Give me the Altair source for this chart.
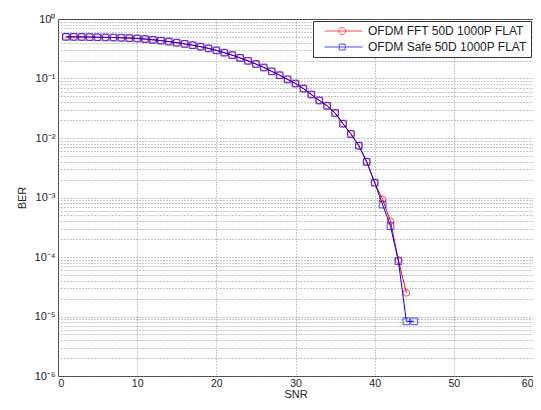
import altair as alt
import pandas as pd

# ---- data ----
snr_red = list(range(1, 45))
ber_red = [0.501, 0.500, 0.499, 0.497, 0.494, 0.491, 0.488, 0.483, 0.478, 0.470,
           0.460, 0.447, 0.433, 0.417, 0.400, 0.382, 0.363, 0.343, 0.321, 0.297,
           0.272, 0.247, 0.222, 0.198, 0.175, 0.153, 0.132, 0.1135, 0.0966, 0.0822,
           0.0676, 0.0537, 0.0427, 0.0347, 0.0263, 0.0174, 0.0117, 0.00741, 0.00398, 0.00178,
           9.3e-4, 3.98e-4, 8.9e-5, 2.5e-5]
snr_blue = list(range(1, 46))
ber_blue = [0.501, 0.500, 0.499, 0.497, 0.494, 0.491, 0.488, 0.483, 0.478, 0.470,
            0.460, 0.447, 0.433, 0.417, 0.400, 0.382, 0.363, 0.343, 0.321, 0.297,
            0.272, 0.247, 0.222, 0.198, 0.175, 0.153, 0.132, 0.1135, 0.0966, 0.0822,
            0.0676, 0.0537, 0.0427, 0.0347, 0.0263, 0.0174, 0.0117, 0.00741, 0.00398, 0.00178,
            7.6e-4, 3.3e-4, 8.5e-5, 8.3e-6, 8.3e-6]

series_names = ["OFDM FFT 50D 1000P FLAT", "OFDM Safe 50D 1000P FLAT"]
series_colors = ["#ff0000", "#0000ff"]
point_shapes = ["circle", "square"]
# legend glyphs: line segment with marker (unit = sqrt(size)/2 px)
legend_shapes = [
    "M0.5,0H13.2M7.57,0A1.17,1.17,0,1,1,5.23,0A1.17,1.17,0,1,1,7.57,0",
    "M0.5,0H13.2M5.4,-1H7.4V1H5.4Z",
]
x_ticks = [0, 10, 20, 30, 40, 50, 60]
y_exponents = [-6, -5, -4, -3, -2, -1]
y_grid = [k * 10.0 ** e for e in y_exponents for k in range(1, 10)] + [1.0]

df = pd.DataFrame({
    "snr": snr_red + snr_blue,
    "ber": ber_red + ber_blue,
    "series": [series_names[0]] * len(snr_red) + [series_names[1]] * len(snr_blue),
})

label_expr = (
    "abs(log(datum.value)/LN10 - round(log(datum.value)/LN10)) < 0.001 ? "
    "'10' + ['\u2070','\u207b\u00b9','\u207b\u00b2','\u207b\u00b3','\u207b\u2074','\u207b\u2075','\u207b\u2076']"
    "[abs(round(log(datum.value)/LN10))] : ''"
)

x_enc = alt.X(
    "snr:Q",
    scale=alt.Scale(domain=[0, 60], nice=False),
    axis=alt.Axis(values=x_ticks, title="SNR", grid=True, ticks=False, tickSize=0,
                  domain=False, labelPadding=2, labelFontSize=10.5, titlePadding=0, format="d"),
)
y_enc = alt.Y(
    "ber:Q",
    scale=alt.Scale(type="log", domain=[1e-6, 1], nice=False),
    axis=alt.Axis(values=y_grid, labelExpr=label_expr, title="BER", grid=True,
                  ticks=False, tickSize=0, domain=False, labelPadding=3, titlePadding=7,
                  labelOverlap=False),
)

base = alt.Chart(df)

lines = base.mark_line(strokeWidth=1, clip=True).encode(
    x=x_enc, y=y_enc,
    color=alt.Color("series:N", scale=alt.Scale(domain=series_names, range=series_colors), legend=None),
)
points = base.mark_point(filled=False, strokeWidth=1, size=45, clip=True).encode(
    x=x_enc, y=y_enc,
    color=alt.Color("series:N", scale=alt.Scale(domain=series_names, range=series_colors), legend=None),
    shape=alt.Shape("series:N", scale=alt.Scale(domain=series_names, range=point_shapes), legend=None),
)
legend_layer = base.transform_calculate(legend_series="datum.series").transform_filter("false").mark_point(
    filled=False, strokeWidth=1, size=36
).encode(
    x=x_enc, y=y_enc,
    color=alt.Color("legend_series:N", scale=alt.Scale(domain=series_names, range=series_colors),
                    legend=alt.Legend(title=None)),
    shape=alt.Shape("legend_series:N", scale=alt.Scale(domain=series_names, range=legend_shapes),
                    legend=alt.Legend(title=None)),
)

chart = alt.layer(lines, points, legend_layer).resolve_scale(
    color="independent", shape="independent"
).properties(
    width=475, height=357,
    autosize=alt.AutoSizeParams(type="none"),
    padding={"left": 50, "top": 11, "right": 0, "bottom": 26},
    background="white",
).configure_view(
    stroke="#333333", strokeWidth=1
).configure_axis(
    labelFont="Liberation Sans", labelFontSize=11, labelColor="#222222",
    titleFont="Liberation Sans", titleFontSize=11, titleFontWeight="normal", titleColor="#222222",
    gridColor="#8c8c8c", gridDash=[1, 2], gridWidth=1, gridOpacity=1,
).configure_legend(
    orient="top-right", offset=2, padding=4, rowPadding=4,
    fillColor="white", strokeColor="#333333", strokeWidth=1,
    labelFont="Liberation Sans", labelFontSize=12, labelColor="#222222", labelLimit=400,
    symbolSize=36, symbolStrokeWidth=1, labelOffset=39, symbolOffset=0,
)

chart.save("out.html", embed_options={"renderer": "svg", "actions": False})
